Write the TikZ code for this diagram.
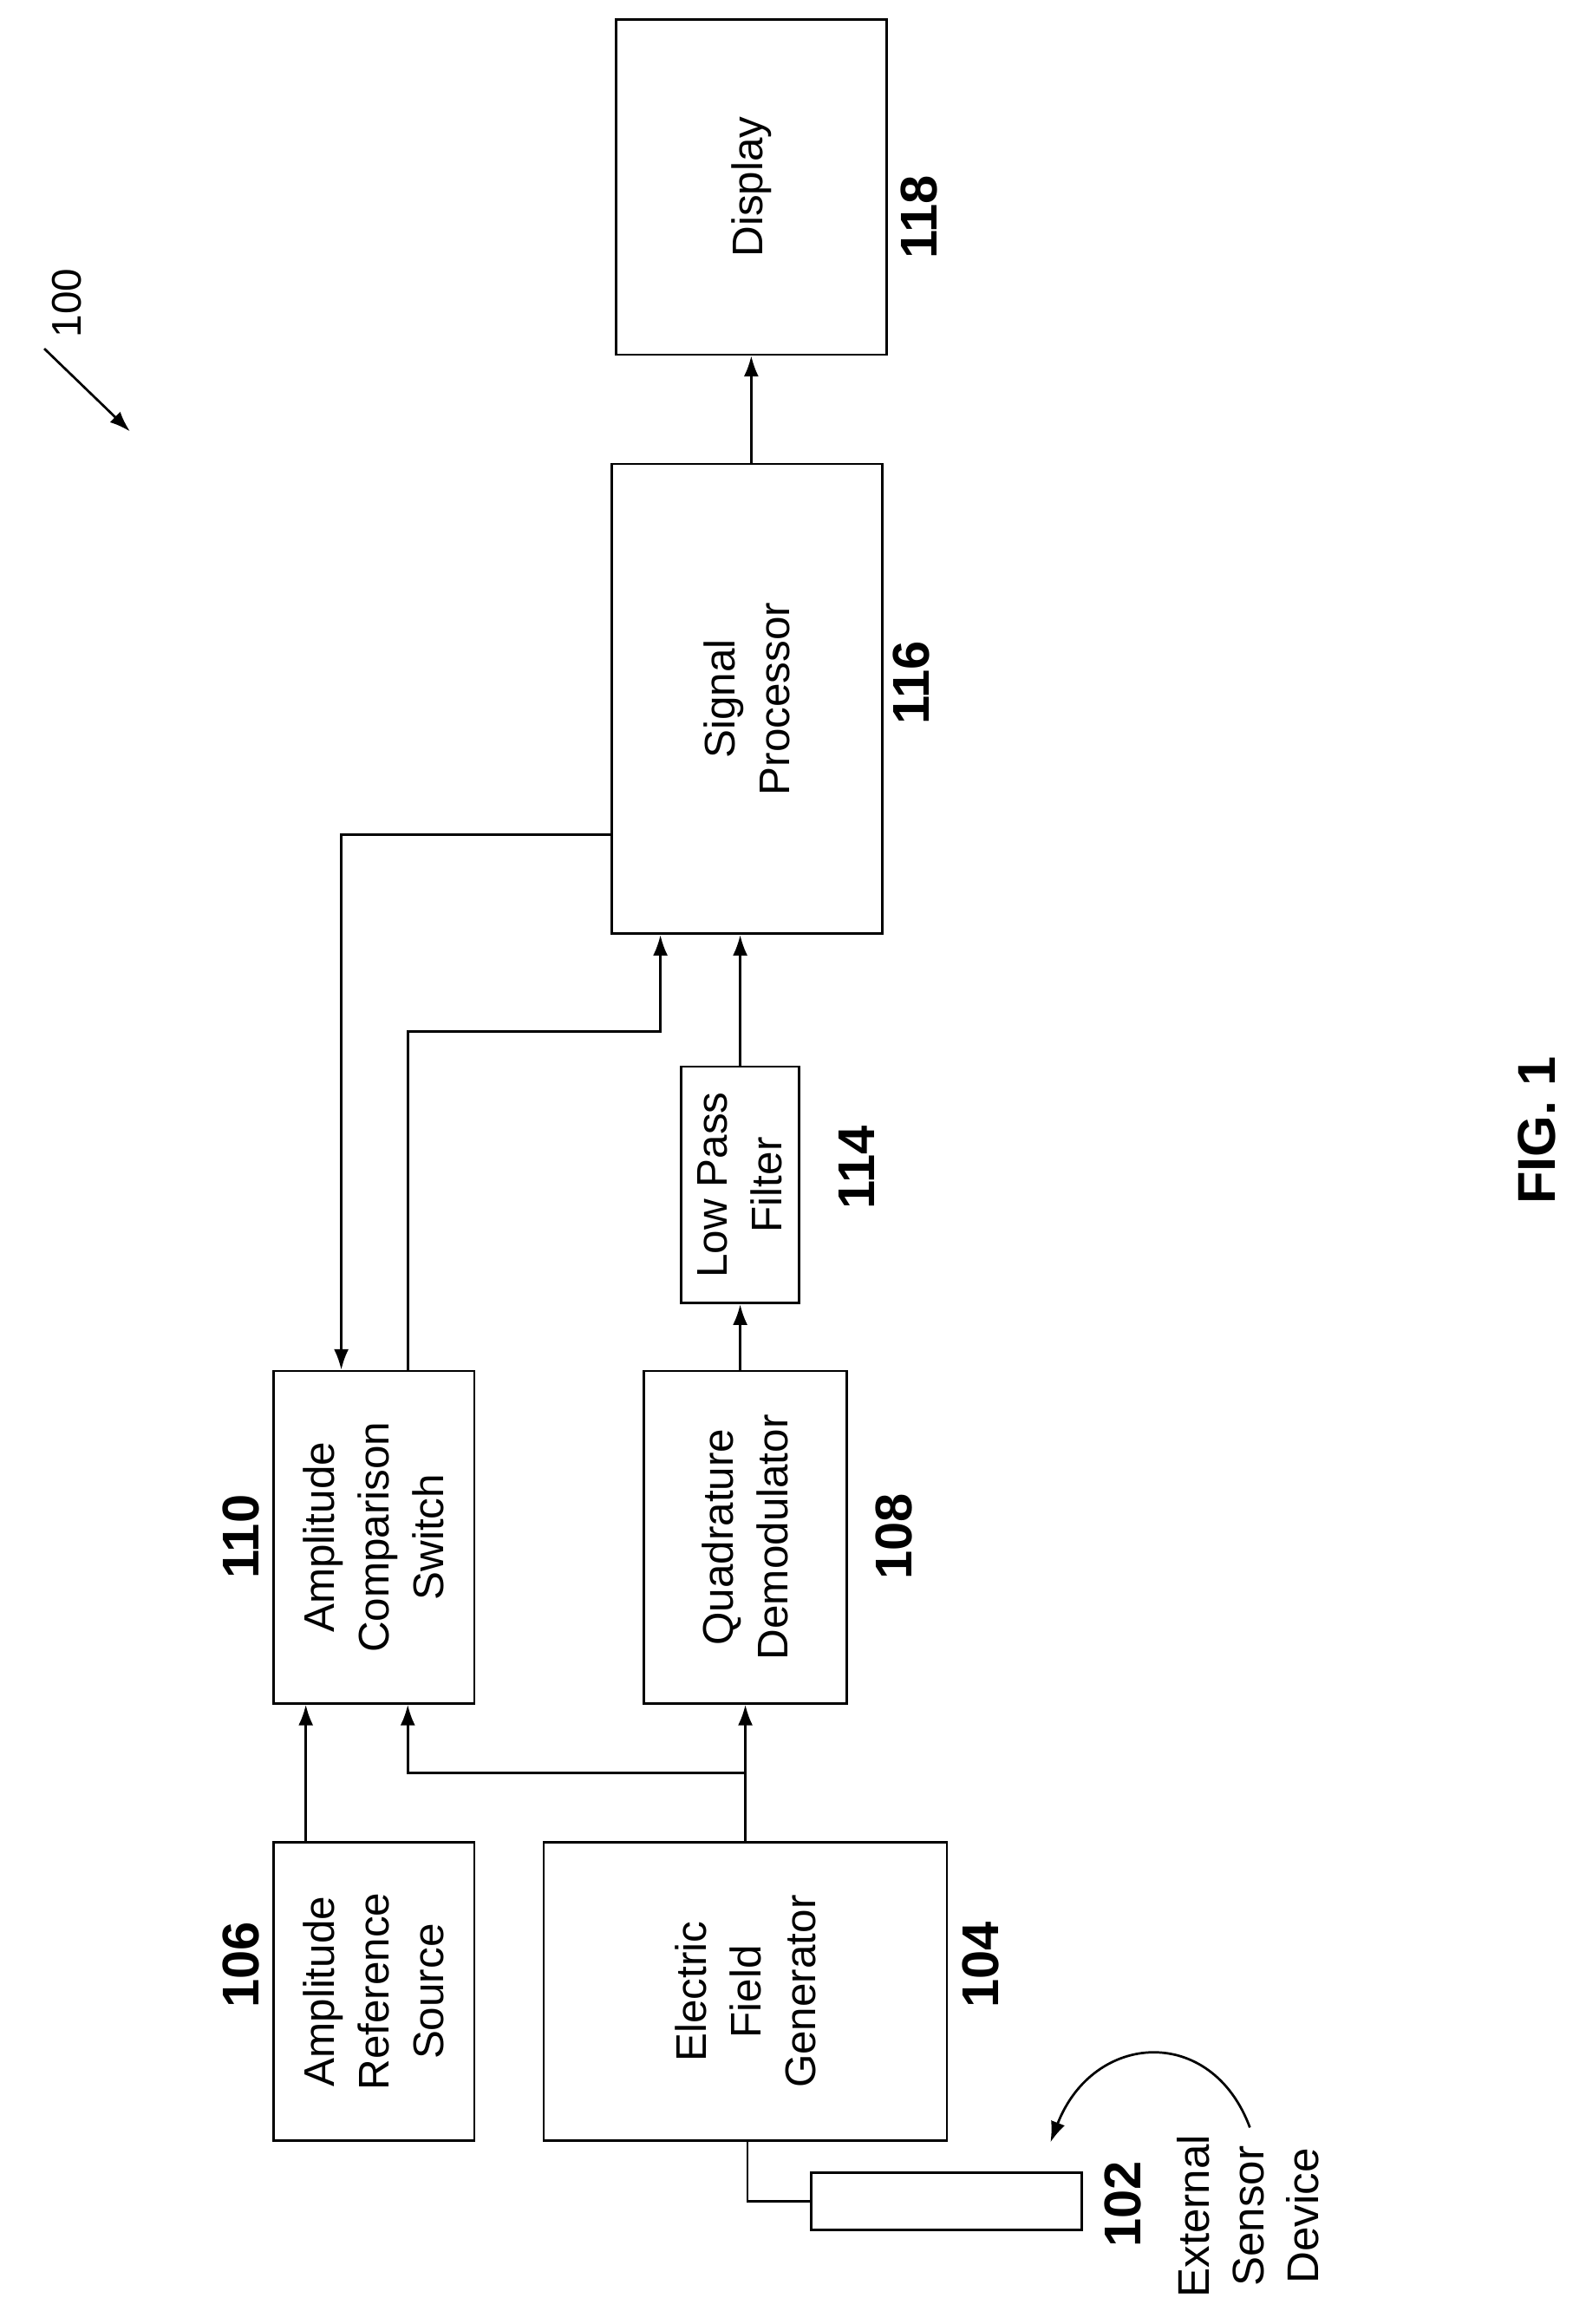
\documentclass[tikz,border=0pt]{standalone}
\usepackage{fontspec}
\setmainfont{Liberation Sans}
\usetikzlibrary{arrows.meta,calc}
\begin{document}
\begin{tikzpicture}[x=0.5pt,y=-0.5pt,
  box/.style={draw,line width=0.8pt,inner sep=0pt},
  txt/.style={rotate=90,align=center,font=\fontsize{14.5}{18.5}\selectfont},
  lab/.style={rotate=90,font=\fontsize{17.5}{20}\selectfont\bfseries},
  arr/.style={line width=0.8pt,-{Latex[length=7pt,width=5pt]}},
  ln/.style={line width=0.8pt}]
\useasboundingbox (0,0) rectangle (1073,1573);
\node[box,minimum width=91.5pt,minimum height=113.5pt] (disp) at (508.5,126.5) {};
\node[txt] at (disp) {Display};
\node[box,minimum width=91.5pt,minimum height=159pt] (sp) at (505.5,473) {};
\node[txt] at (sp) {Signal\\Processor};
\node[box,minimum width=40pt,minimum height=80pt] (lpf) at (501,802) {};
\node[txt] at (lpf) {Low Pass\\Filter};
\node[box,minimum width=68pt,minimum height=112.5pt] (acs) at (253,1040.5) {};
\node[txt] at (acs) {Amplitude\\Comparison\\Switch};
\node[box,minimum width=68.5pt,minimum height=112.5pt] (qd) at (504.5,1040.5) {};
\node[txt] at (qd) {Quadrature\\Demodulator};
\node[box,minimum width=68pt,minimum height=101pt] (ars) at (253,1348) {};
\node[txt] at (ars) {Amplitude\\Reference\\Source};
\node[box,minimum width=136.5pt,minimum height=101pt] (efg) at (504.5,1348) {};
\node[txt] at (efg) {Electric\\Field\\Generator};
\node[box,minimum width=91.5pt,minimum height=19.5pt] (sen) at (640.5,1490) {};

\node[lab] at (622,147) {118};
\node[lab] at (617,462) {116};
\node[lab] at (580,790) {114};
\node[lab] at (163,1040) {110};
\node[lab] at (605,1040) {108};
\node[lab] at (163,1330) {106};
\node[lab] at (664,1330) {104};
\node[lab] at (760,1492) {102};
\node[txt,font=\fontsize{15}{18.5}\selectfont] (ext) at (845,1500) {External\\Sensor\\Device};
\node[rotate=90,font=\fontsize{14}{16}\selectfont] (n100) at (45,205) {100};
\node[rotate=90,font=\fontsize{18}{20}\selectfont\bfseries] at (1040,765) {FIG. 1};

\coordinate (a1) at (30,236);
\coordinate (a2) at (88,292);
\draw[arr] (a1) -- (a2);

\draw[arr] (disp.south |- sp.north) -- (disp.south);
\draw[arr] (lpf.north) -- (sp.south -| lpf.north);
\draw[arr] (qd.north -| lpf.south) -- (lpf.south);
\draw[arr] (efg.north) -- (qd.south);
\coordinate (j) at (505,1200);
\draw[arr] (j) -| ([xshift=11.5pt]acs.south);
\draw[arr] ([xshift=-23pt]ars.north) -- ([xshift=-23pt]acs.south);
\coordinate (k) at (447,698);
\draw[arr] ([xshift=11.5pt]acs.north) |- (k) -- ([xshift=-29.25pt]sp.south);
\draw[arr] ([yshift=-46pt]sp.west) -| ([xshift=-11pt]acs.north);
\draw[ln] ([xshift=0.75pt]efg.south) |- (sen.west);
\coordinate (c1) at (846,1440);
\coordinate (c2) at (711,1450);
\draw[arr] (c1) .. controls (820,1370) and (740,1375) .. (c2);
\end{tikzpicture}
\end{document}
